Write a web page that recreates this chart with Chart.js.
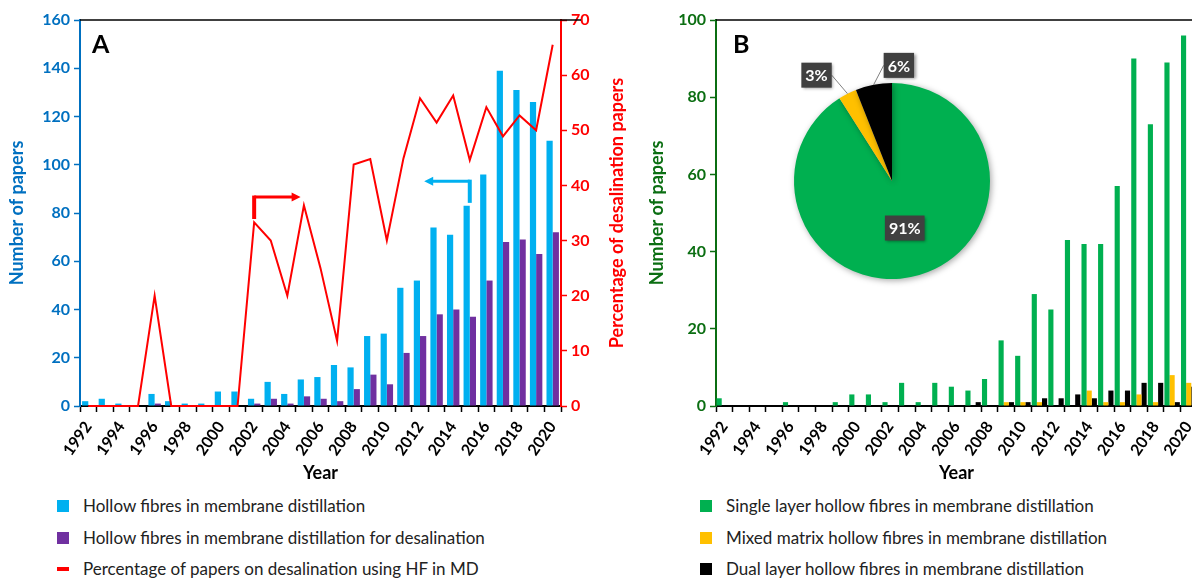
<!DOCTYPE html>
<html>
<head>
<meta charset="utf-8">
<title>Hollow fibre MD papers</title>
<script src="https://cdn.jsdelivr.net/npm/chart.js@4.4.1/dist/chart.umd.min.js"></script>
<style>
  html, body { margin: 0; padding: 0; background: #fff; }
  body { width: 1192px; height: 579px; overflow: hidden; position: relative; font-family: Lato, 'Open Sans', sans-serif; }
  .panel { position: absolute; top: 0; }
  #wrapA { left: 0; width: 640px; height: 485px; }
  #wrapB { left: 640px; width: 600px; height: 485px; }
  #wrapPie { position: absolute; left: 752px; top: 41px; width: 280px; height: 280px; }
  .tag { position: absolute; font: bold 25px Lato, sans-serif; color: #000; }
  .legend-item { position: absolute; height: 20px; line-height: 20px; font-size: 17px; color: #222; white-space: nowrap; }
  .legend-item .sw { position: absolute; left: 0; top: 4px; width: 12px; height: 12px; }
  .legend-item .sw.line { top: 8px; height: 4px; }
  .legend-item span.txt { position: absolute; left: 26px; top: 0; }
</style>
</head>
<body>
<div class="panel" id="wrapA"><canvas id="chartA" width="640" height="485"></canvas></div>
<div class="panel" id="wrapB"><canvas id="chartB" width="600" height="485"></canvas></div>
<div id="wrapPie"><canvas id="chartPie" width="280" height="280"></canvas></div>
<div class="tag" style="left:92px; top:28px;">A</div>
<div class="tag" style="left:733px; top:28px;">B</div>
<div id="legendA"></div>
<div id="legendB"></div>
<script>
// data
const years = ['1992', '1993', '1994', '1995', '1996', '1997', '1998', '1999', '2000', '2001',
    '2002', '2003', '2004', '2005', '2006', '2007', '2008', '2009', '2010', '2011',
    '2012', '2013', '2014', '2015', '2016', '2017', '2018', '2019', '2020'];
const hfMD = [2, 3, 1, 0, 5, 2, 1, 1, 6, 6, 3, 10, 5, 11, 12, 17, 16, 29, 30, 49, 52, 74, 71, 83, 96, 139, 131, 126, 110];
const hfDesal = [0, 0, 0, 0, 1, 0, 0, 0, 0, 0, 1, 3, 1, 4, 3, 2, 7, 13, 9, 22, 29, 38, 40, 37, 52, 68, 69, 63, 72];
const pctDesal = [0, 0, 0, 0, 20, 0, 0, 0, 0, 0, 33.3, 30, 20, 36.4, 25, 11.8, 43.8, 44.8, 30, 44.9,
    55.8, 51.4, 56.3, 44.6, 54.2, 48.9, 52.7, 50, 65.5];
const singleLayer = [2, 0, 0, 0, 1, 0, 0, 1, 3, 3, 1, 6, 1, 6, 5, 4, 7, 17, 13, 29, 25, 43, 42, 42, 57, 90, 73, 89, 96];
const mixedMatrix = [0, 0, 0, 0, 0, 0, 0, 0, 0, 0, 0, 0, 0, 0, 0, 0, 0, 1, 1, 1, 0, 0, 4, 1, 1, 3, 1, 8, 6];
const dualLayer = [0, 0, 0, 0, 0, 0, 0, 0, 0, 0, 0, 0, 0, 0, 0, 1, 0, 1, 1, 2, 2, 3, 2, 4, 4, 6, 6, 1, 5];
const pieNames = ['Single layer', 'Mixed matrix', 'Dual layer'];
const pieShares = [91, 3, 6];
const leftTicksA = [0, 160, 20];   // min, max, step
const rightTicksA = [0, 70, 10];
const ticksB = [0, 100, 20];

const BLUE = '#00B0F0', PURPLE = '#7030A0', RED = '#FF0000';
const GREEN = '#00B050', YELLOW = '#FFC000', BLACK = '#000000';
const AXIS_BLUE = '#0070C0', AXIS_GREEN = '#0B6E12';

Chart.defaults.font.family = 'Lato, "Open Sans", sans-serif';
Chart.defaults.animation = false;
Chart.defaults.plugins.legend.display = false;
Chart.defaults.plugins.tooltip.enabled = false;

// top border of the plot box
const topBorder = {
    id: 'topBorder',
    afterDraw(chart) {
        const { ctx, chartArea: a } = chart;
        ctx.save();
        ctx.strokeStyle = '#000';
        ctx.lineWidth = 1.5;
        ctx.beginPath();
        ctx.moveTo(a.left, a.top);
        ctx.lineTo(a.right + 20, a.top);
        ctx.stroke();
        ctx.restore();
    }
};

// right axis title reads bottom-to-top like the left one
const rightTitle = {
    id: 'rightTitle',
    afterDraw(chart) {
        const { ctx, chartArea: a } = chart;
        ctx.save();
        ctx.translate(a.right + 56, (a.top + a.bottom) / 2);
        ctx.rotate(-Math.PI / 2);
        ctx.font = 'bold 18px Lato, sans-serif';
        ctx.fillStyle = RED;
        ctx.textAlign = 'center';
        ctx.textBaseline = 'middle';
        ctx.fillText('Percentage of desalination papers', 0, 0);
        ctx.restore();
    }
};

function drawArrow(ctx, x0, yStart, yTurn, xTip, color) {
    const dir = xTip > x0 ? 1 : -1;
    ctx.save();
    ctx.strokeStyle = color;
    ctx.fillStyle = color;
    ctx.lineWidth = 4;
    ctx.beginPath();
    ctx.moveTo(x0, yStart);
    ctx.lineTo(x0, yTurn - 1.5);
    ctx.stroke();
    ctx.lineWidth = 3;
    ctx.beginPath();
    ctx.moveTo(x0, yTurn);
    ctx.lineTo(xTip - dir * 6, yTurn);
    ctx.stroke();
    ctx.beginPath();
    ctx.moveTo(xTip, yTurn);
    ctx.lineTo(xTip - dir * 9, yTurn - 4.5);
    ctx.lineTo(xTip - dir * 9, yTurn + 4.5);
    ctx.closePath();
    ctx.fill();
    ctx.restore();
}

// the two "which axis" arrows in panel A
const axisArrows = {
    id: 'axisArrows',
    afterDatasetsDraw(chart) {
        const { ctx, scales: { x, y } } = chart;
        drawArrow(ctx, x.getPixelForValue(10), y.getPixelForValue(77.5), y.getPixelForValue(86.6), x.getPixelForValue(12.8), RED);
        drawArrow(ctx, x.getPixelForValue(23), y.getPixelForValue(84.2), y.getPixelForValue(93.2), x.getPixelForValue(20.25), BLUE);
    }
};

const xAxis = {
    offset: true,
    grid: { display: true, drawOnChartArea: false, drawTicks: true, tickLength: 6, color: '#000', tickWidth: 1.5, offset: true },
    border: { color: '#000', width: 2 },
    ticks: {
        autoSkip: false, maxRotation: 55, minRotation: 55, padding: 6, color: '#000',
        font: { size: 16, weight: 'bold' },
        callback: (v, i) => (i % 2 === 0 ? years[i] : '')
    },
    title: { display: true, text: 'Year', color: '#000', font: { size: 18, weight: 'bold' }, padding: { top: 0, bottom: 1 } },
    afterFit: s => { s.height = 79; }
};

function yAxis(range, color, pos, width, title) {
    return {
        position: pos,
        min: range[0], max: range[1],
        grid: { drawOnChartArea: false, drawTicks: true, tickLength: 6, color: color, tickWidth: 1.5 },
        border: { color: color, width: 2 },
        ticks: { stepSize: range[2], color: color, padding: 4, font: { size: 16, weight: 'bold' } },
        title: title
            ? { display: true, text: title, color: color, font: { size: 18, weight: 'bold' }, padding: { top: 6, bottom: 6 } }
            : { display: false },
        afterFit: s => { s.width = width; }
    };
}

// Panel A
new Chart(document.getElementById('chartA').getContext('2d'), {
    type: 'bar',
    data: {
        labels: years,
        datasets: [{
            type: 'line',
            label: 'Percentage of papers on desalination using HF in MD',
            data: pctDesal,
            yAxisID: 'y1',
            borderColor: RED,
            backgroundColor: RED,
            borderWidth: 2,
            pointRadius: 0,
            tension: 0,
            clip: 6,
            order: 0
        }, {
            label: 'Hollow fibres in membrane distillation',
            data: hfMD,
            yAxisID: 'y',
            backgroundColor: BLUE,
            categoryPercentage: 0.75,
            barPercentage: 1,
            order: 1
        }, {
            label: 'Hollow fibres in membrane distillation for desalination',
            data: hfDesal,
            yAxisID: 'y',
            backgroundColor: PURPLE,
            categoryPercentage: 0.75,
            barPercentage: 1,
            order: 1
        }]
    },
    options: {
        responsive: false,
        devicePixelRatio: 1,
        layout: { padding: { top: 20, left: 0, right: 0, bottom: 0 } },
        scales: {
            x: xAxis,
            y: yAxis(leftTicksA, AXIS_BLUE, 'left', 80, 'Number of papers'),
            y1: yAxis(rightTicksA, RED, 'right', 79, null)
        }
    },
    plugins: [topBorder, rightTitle, axisArrows]
});

// Panel B
new Chart(document.getElementById('chartB').getContext('2d'), {
    type: 'bar',
    data: {
        labels: years,
        datasets: [{
            label: 'Single layer hollow fibres in membrane distillation',
            data: singleLayer,
            backgroundColor: GREEN
        }, {
            label: 'Mixed matrix hollow fibres in membrane distillation',
            data: mixedMatrix,
            backgroundColor: YELLOW
        }, {
            label: 'Dual layer hollow fibres in membrane distillation',
            data: dualLayer,
            backgroundColor: BLACK
        }]
    },
    options: {
        responsive: false,
        devicePixelRatio: 1,
        layout: { padding: { top: 20, left: 0, right: 43, bottom: 0 } },
        datasets: { bar: { categoryPercentage: 0.93, barPercentage: 1 } },
        scales: {
            x: xAxis,
            y: yAxis(ticksB, AXIS_GREEN, 'left', 76, 'Number of papers')
        }
    },
    plugins: [topBorder]
});

// Inset pie, percentage tags placed in radius units from the centre
const tagSpots = [[0.13, 0.48, false], [-0.77, -1.08, true], [0.07, -1.18, true]];
const pieTags = {
    id: 'pieTags',
    beforeDatasetsDraw(chart) {
        const ctx = chart.ctx;
        ctx.save();
        ctx.shadowColor = 'rgba(0,0,0,0.35)';
        ctx.shadowBlur = 6;
        ctx.shadowOffsetX = 1.5;
        ctx.shadowOffsetY = 1.5;
    },
    afterDatasetsDraw(chart) {
        const ctx = chart.ctx;
        ctx.restore();
        const meta = chart.getDatasetMeta(0);
        const values = chart.data.datasets[0].data;
        meta.data.forEach((arc, i) => {
            const p = arc.getProps(['x', 'y', 'outerRadius', 'startAngle', 'endAngle'], true);
            const r = p.outerRadius;
            const mid = (p.startAngle + p.endAngle) / 2;
            const bx = p.x + tagSpots[i][0] * r;
            const by = p.y + tagSpots[i][1] * r;
            const text = values[i] + '%';
            ctx.save();
            ctx.font = 'bold 16px Lato, sans-serif';
            const w = ctx.measureText(text).width + 8;
            const h = 25;
            if (tagSpots[i][2]) {
                const ex = p.x + Math.cos(mid) * r;
                const ey = p.y + Math.sin(mid) * r;
                ctx.strokeStyle = '#808080';
                ctx.lineWidth = 1;
                ctx.beginPath();
                ctx.moveTo(ex, ey);
                ctx.lineTo(bx + (ex > bx ? w / 2 : -w / 2), by);
                ctx.stroke();
            }
            ctx.shadowColor = 'rgba(0,0,0,0.4)';
            ctx.shadowBlur = 3;
            ctx.shadowOffsetX = 1.5;
            ctx.shadowOffsetY = 1.5;
            ctx.fillStyle = '#404040';
            ctx.fillRect(bx - w / 2, by - h / 2, w, h);
            ctx.shadowColor = 'transparent';
            ctx.fillStyle = '#fff';
            ctx.textAlign = 'center';
            ctx.textBaseline = 'middle';
            ctx.fillText(text, bx, by + 1);
            ctx.restore();
        });
    }
};

new Chart(document.getElementById('chartPie').getContext('2d'), {
    type: 'pie',
    data: {
        labels: pieNames,
        datasets: [{ data: pieShares, backgroundColor: [GREEN, YELLOW, BLACK], borderWidth: 0 }]
    },
    options: {
        responsive: false,
        devicePixelRatio: 1,
        layout: { padding: 42 }
    },
    plugins: [pieTags]
});

// Legends under each panel
function buildLegend(el, items, left) {
    items.forEach((it, i) => {
        const row = document.createElement('div');
        row.className = 'legend-item';
        row.style.left = left + 'px';
        row.style.top = (496 + i * 31.5) + 'px';
        const sw = document.createElement('div');
        sw.className = 'sw' + (it.line ? ' line' : '');
        sw.style.background = it.color;
        const txt = document.createElement('span');
        txt.className = 'txt';
        txt.textContent = it.label;
        row.appendChild(sw);
        row.appendChild(txt);
        el.appendChild(row);
    });
}

buildLegend(document.getElementById('legendA'), [
    { label: 'Hollow fibres in membrane distillation', color: BLUE },
    { label: 'Hollow fibres in membrane distillation for desalination', color: PURPLE },
    { label: 'Percentage of papers on desalination using HF in MD', color: RED, line: true }
], 57);
buildLegend(document.getElementById('legendB'), [
    { label: 'Single layer hollow fibres in membrane distillation', color: GREEN },
    { label: 'Mixed matrix hollow fibres in membrane distillation', color: YELLOW },
    { label: 'Dual layer hollow fibres in membrane distillation', color: BLACK }
], 700);
</script>
</body>
</html>
